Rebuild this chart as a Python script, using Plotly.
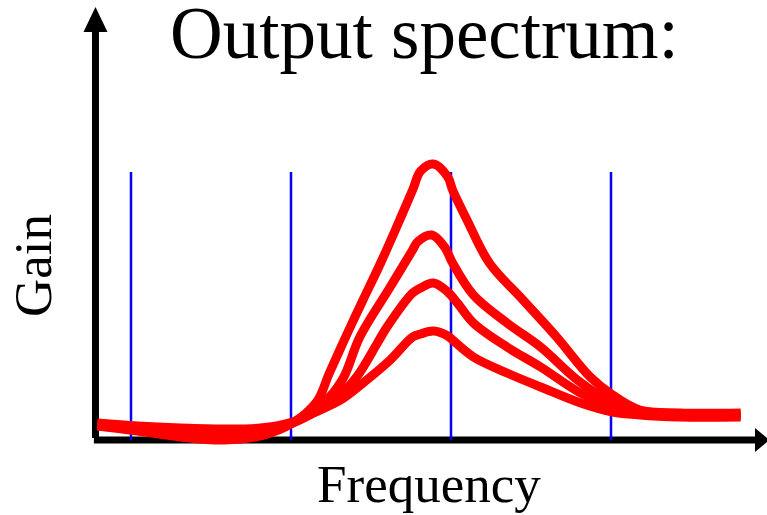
import plotly.graph_objects as go

# ---- data (frequency in arbitrary units, gain in arbitrary units) ----
freq_1 = [0.79, 1.04, 1.31, 1.58, 1.81, 2.01, 2.16, 2.24, 2.35, 2.45, 2.56, 2.66, 2.76, 2.81, 2.89, 2.98, 3.01, 3.10, 3.24, 3.45, 3.66, 3.87, 4.01, 4.18, 4.43, 4.81]
gain_1 = [0.14, 0.09, 0.03, 0.00, 0.04, 0.17, 0.38, 0.67, 1.06, 1.40, 1.77, 2.13, 2.50, 2.69, 2.76, 2.63, 2.50, 2.20, 1.77, 1.40, 1.03, 0.63, 0.45, 0.30, 0.27, 0.27]

freq_2 = [0.79, 1.04, 1.31, 1.58, 1.81, 2.01, 2.24, 2.33, 2.43, 2.62, 2.76, 2.79, 2.88, 2.96, 3.01, 3.14, 3.35, 3.56, 3.79, 3.98, 4.18, 4.43, 4.81]
gain_2 = [0.15, 0.11, 0.07, 0.04, 0.07, 0.17, 0.43, 0.63, 1.03, 1.53, 1.90, 1.98, 2.05, 1.93, 1.77, 1.45, 1.17, 0.93, 0.60, 0.40, 0.29, 0.26, 0.26]

freq_3 = [0.79, 1.04, 1.31, 1.58, 1.81, 2.01, 2.29, 2.41, 2.54, 2.60, 2.76, 2.81, 2.89, 2.98, 3.04, 3.14, 3.35, 3.56, 3.81, 4.01, 4.18, 4.43, 4.81]
gain_3 = [0.16, 0.12, 0.10, 0.08, 0.10, 0.17, 0.43, 0.63, 0.97, 1.13, 1.47, 1.52, 1.57, 1.48, 1.37, 1.17, 0.93, 0.73, 0.47, 0.34, 0.27, 0.24, 0.24]

freq_4 = [0.79, 1.04, 1.31, 1.58, 1.81, 2.01, 2.14, 2.31, 2.45, 2.62, 2.76, 2.81, 2.89, 2.98, 3.01, 3.14, 3.35, 3.56, 3.81, 4.01, 4.18, 4.43, 4.81]
gain_4 = [0.17, 0.14, 0.12, 0.11, 0.12, 0.18, 0.27, 0.40, 0.57, 0.80, 1.03, 1.06, 1.09, 1.04, 1.00, 0.83, 0.67, 0.53, 0.37, 0.28, 0.25, 0.23, 0.23]

marker_freqs = [1, 2, 3, 4]
marker_top = 2.68

title_text = "Output spectrum:"
x_label = "Frequency"
y_label = "Gain"

W, H = 767, 515

def px(xw):
    return xw / W

def py(yw):
    return 1 - yw / H

fig = go.Figure()

# blue reference lines
for f in marker_freqs:
    fig.add_trace(go.Scatter(x=[f, f], y=[0, marker_top], mode="lines",
                             line=dict(color="#0000ff", width=2.5),
                             hoverinfo="skip", showlegend=False))

for fx, gy in [(freq_4, gain_4), (freq_3, gain_3), (freq_2, gain_2), (freq_1, gain_1)]:
    fig.add_trace(go.Scatter(x=fx, y=gy, mode="lines",
                             line=dict(color="#ff0000", width=9, shape="spline", smoothing=1.0),
                             hoverinfo="skip", showlegend=False))

x_axis_pos = 0.778
shapes = [
    dict(type="line", xref="x", yref="y", x0=x_axis_pos, x1=x_axis_pos, y0=0.02, y1=4.10,
         line=dict(color="black", width=7), layer="below"),
    dict(type="line", xref="x", yref="y", x0=x_axis_pos - 0.01, x1=4.91, y0=0.0, y1=0.0,
         line=dict(color="black", width=7), layer="below"),
    dict(type="path", xref="x", yref="y",
         path=f"M {x_axis_pos-0.075},4.08 L {x_axis_pos+0.075},4.08 L {x_axis_pos},4.33 Z",
         fillcolor="black", line=dict(color="black", width=0)),
    dict(type="path", xref="x", yref="y",
         path="M 4.90,0.12 L 4.90,-0.12 L 4.99,0.0 Z",
         fillcolor="black", line=dict(color="black", width=0)),
]

serif = "Liberation Serif, Times New Roman, serif"
annotations = [
    dict(text=title_text, xref="paper", yref="paper", x=px(424), y=py(33),
         xanchor="center", yanchor="middle", showarrow=False,
         font=dict(family=serif, size=73, color="black")),
    dict(text=x_label, xref="paper", yref="paper", x=px(429), y=py(484),
         xanchor="center", yanchor="middle", showarrow=False,
         font=dict(family=serif, size=53, color="black")),
    dict(text=y_label, xref="paper", yref="paper", x=px(33), y=py(266),
         xanchor="center", yanchor="middle", showarrow=False, textangle=-90,
         font=dict(family=serif, size=53, color="black")),
]

fig.update_layout(
    width=W, height=H,
    margin=dict(l=0, r=0, t=0, b=0),
    paper_bgcolor="white", plot_bgcolor="white",
    xaxis=dict(range=[29 / 160, (767 + 29) / 160], visible=False, fixedrange=True),
    yaxis=dict(range=[(440 - 515) / 100, 440 / 100], visible=False, fixedrange=True),
    shapes=shapes, annotations=annotations, showlegend=False,
)

fig.write_html("out.html",
               config={"displayModeBar": False, "staticPlot": True},
               post_script="document.body.style.margin='0px';document.body.style.overflow='hidden';")
